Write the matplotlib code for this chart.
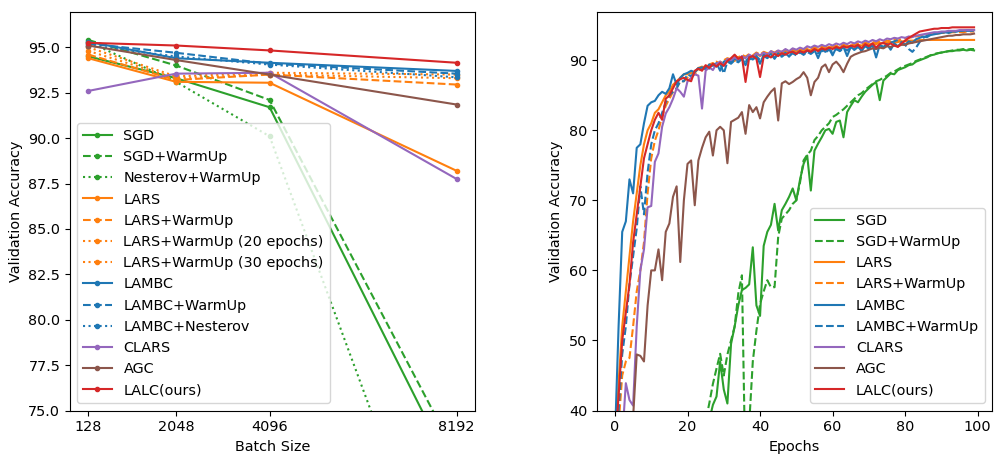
import matplotlib
matplotlib.use("Agg")
import matplotlib.pyplot as plt

plt.rcParams["font.size"] = 10.4

# ==========================
# Data: accuracy vs batch size
# ==========================

batch_sizes = [128, 2048, 4096, 8192]
batch_ticks = ["128", "2048", "4096", "8192"]

bs_sgd = [94.5, 93.3, 91.7, 71.2]
bs_sgd_wu = [95.4, 94.0, 92.1, 72.5]
bs_nesterov_wu = [95.3, 93.1, 90.1, 62.2]
bs_lars = [94.4, 93.1, 93.05, 88.2]
bs_lars_wu = [94.6, 93.2, 93.5, 92.95]
bs_lars_wu20 = [94.8, 93.3, 93.5, 93.3]
bs_lars_wu30 = [95.0, 93.4, 93.6, 93.5]
bs_lambc = [95.3, 94.4, 94.15, 93.7]
bs_lambc_wu = [95.2, 94.7, 94.1, 93.55]
bs_lambc_nest = [95.1, 94.5, 94.05, 93.35]
bs_clars = [92.6, 93.55, 93.6, 87.75]
bs_agc = [95.1, 94.3, 93.5, 91.85]
bs_lalc = [95.25, 95.1, 94.83, 94.15]

# ==========================
# Data: accuracy vs epochs
# ==========================

epochs = list(range(100))

ep_sgd = [10.0, 12.5, 14.8, 17.0, 18.6, 20.1, 21.5, 22.4, 23.9, 24.8,
          26.0, 26.9, 27.5, 28.8, 29.4, 30.6, 31.2, 32.0, 32.9, 33.5,
          34.4, 35.0, 35.8, 36.5, 37.1, 37.9, 38.6, 40.8, 42.0, 47.0,
          43.0, 41.0, 49.5, 52.0, 55.0, 57.2, 57.5, 58.0, 63.3, 55.0,
          53.5, 63.5, 65.5, 66.5, 69.5, 65.7, 68.6, 69.5, 70.5, 71.7,
          70.0, 72.9, 75.2, 76.4, 71.4, 77.1, 78.1, 79.0, 80.0, 80.2,
          79.5, 81.2, 81.4, 79.0, 82.6, 83.5, 84.3, 84.0, 84.8, 85.5,
          86.0, 86.5, 86.9, 84.3, 87.1, 87.6, 88.1, 88.0, 88.6, 88.8,
          89.0, 89.3, 89.4, 89.8, 90.0, 90.2, 90.4, 90.7, 90.8, 91.0,
          91.1, 91.2, 91.3, 91.3, 91.4, 91.4, 91.5, 91.4, 91.5, 91.4]

ep_sgd_wu = [10.0, 12.0, 14.5, 16.5, 18.5, 20.0, 21.6, 22.8, 24.0, 25.1,
             26.2, 27.0, 28.0, 28.9, 29.8, 30.5, 31.4, 32.1, 33.0, 33.8,
             34.5, 35.3, 36.0, 36.8, 37.5, 38.5, 41.0, 43.8, 46.0, 48.1,
             45.0, 48.0, 50.0, 52.0, 56.7, 59.3, 30.0, 38.0, 47.0, 51.4,
             55.2, 57.0, 58.6, 57.6, 57.6, 64.8, 67.4, 68.0, 68.6, 69.5,
             70.0, 72.5, 75.7, 76.5, 77.1, 78.6, 79.2, 80.0, 80.5, 81.0,
             81.9, 82.2, 82.6, 83.0, 83.5, 84.0, 84.5, 85.0, 85.3, 85.8,
             86.2, 86.6, 87.0, 87.2, 87.5, 87.8, 88.2, 88.4, 88.7, 89.0,
             89.2, 89.4, 89.6, 89.9, 90.1, 90.3, 90.5, 90.7, 90.9, 91.0,
             91.1, 91.2, 91.3, 91.4, 91.5, 91.5, 91.6, 91.5, 91.6, 91.6]

ep_lars = [33.0, 44.0, 52.0, 57.0, 62.0, 67.0, 71.0, 75.0, 78.0, 80.0,
           81.0, 82.5, 83.0, 84.0, 85.0, 85.5, 86.5, 87.0, 87.5, 88.0,
           88.0, 88.4, 88.2, 88.9, 89.1, 88.8, 89.4, 89.6, 89.3, 89.8,
           89.5, 90.0, 90.2, 89.9, 90.4, 90.1, 90.5, 90.7, 90.4, 90.9,
           90.6, 91.0, 90.8, 91.1, 90.9, 91.2, 91.0, 91.3, 91.1, 91.4,
           91.2, 91.5, 91.3, 91.6, 91.4, 91.7, 91.5, 91.8, 91.6, 91.9,
           91.7, 92.0, 91.8, 92.1, 91.9, 92.1, 92.0, 92.2, 92.1, 92.3,
           92.2, 92.4, 92.3, 92.5, 92.4, 92.5, 92.6, 92.5, 92.6, 92.7,
           92.7, 92.8, 92.8, 92.8, 92.9, 92.9, 92.9, 92.9, 92.9, 92.9,
           92.9, 92.9, 92.9, 92.9, 92.9, 92.9, 92.9, 92.9, 92.9, 92.9]

ep_lars_wu = [33.0, 38.0, 45.0, 47.0, 47.5, 52.0, 57.0, 60.0, 64.0, 71.0,
              76.0, 78.5, 80.0, 82.0, 83.5, 84.5, 85.5, 86.0, 87.0, 87.0,
              87.5, 88.2, 88.0, 88.6, 88.9, 89.2, 88.9, 89.5, 89.8, 89.4,
              90.0, 90.3, 90.1, 90.6, 90.4, 90.8, 90.5, 90.9, 90.7, 91.1,
              90.8, 91.2, 91.0, 91.3, 91.1, 91.4, 91.2, 91.5, 91.3, 91.6,
              91.4, 91.7, 91.5, 91.8, 91.6, 91.9, 91.7, 92.0, 91.8, 92.1,
              91.9, 92.1, 92.0, 92.2, 92.1, 92.3, 92.2, 92.4, 92.3, 92.5,
              92.4, 92.6, 92.5, 92.7, 92.6, 92.8, 92.7, 92.9, 92.8, 93.0,
              93.1, 93.2, 93.3, 93.4, 93.5, 93.6, 93.7, 93.7, 93.8, 93.8,
              93.9, 93.9, 93.9, 94.0, 94.0, 94.0, 94.0, 94.1, 94.1, 94.1]

ep_lambc = [36.0, 52.0, 65.5, 67.0, 73.0, 71.0, 77.5, 78.0, 81.0, 83.5,
            84.0, 84.2, 85.0, 85.5, 85.2, 86.0, 88.0, 86.5, 87.5, 88.0,
            88.2, 88.5, 88.3, 88.8, 89.0, 88.7, 89.4, 89.2, 89.6, 88.5,
            89.8, 90.0, 89.7, 90.2, 90.0, 90.4, 89.3, 90.5, 90.1, 90.6,
            89.5, 90.8, 90.5, 90.9, 90.2, 91.0, 90.6, 91.1, 90.5, 91.2,
            90.9, 91.3, 90.8, 91.4, 91.1, 91.5, 90.3, 91.6, 91.2, 91.7,
            90.7, 91.8, 91.4, 91.9, 90.6, 91.9, 91.5, 92.0, 91.3, 92.1,
            91.6, 92.2, 90.4, 92.2, 91.8, 92.3, 91.5, 92.4, 92.0, 92.5,
            92.2, 92.7, 92.5, 93.0, 93.2, 93.4, 93.3, 93.6, 93.7, 93.8,
            93.9, 94.0, 93.9, 94.1, 94.1, 94.2, 94.2, 94.3, 94.3, 94.3]

ep_lambc_wu = [33.0, 40.0, 48.0, 52.0, 58.0, 62.0, 66.0, 72.0, 68.0, 74.0,
               78.0, 80.0, 81.0, 82.5, 84.0, 85.0, 85.5, 86.0, 87.0, 87.0,
               88.0, 87.7, 88.4, 88.9, 88.6, 89.1, 88.8, 89.4, 89.1, 89.6,
               88.1, 89.8, 89.5, 90.0, 89.7, 90.2, 89.9, 90.3, 90.0, 90.5,
               90.1, 90.6, 90.3, 90.7, 90.4, 90.8, 90.5, 90.9, 90.6, 91.0,
               90.7, 91.1, 90.8, 91.2, 90.9, 91.3, 91.0, 91.4, 91.1, 91.5,
               91.2, 91.6, 91.3, 91.7, 91.4, 91.8, 91.5, 91.9, 91.6, 92.0,
               91.7, 92.1, 91.8, 92.2, 91.9, 92.3, 92.5, 92.7, 92.9, 92.6,
               92.2, 91.6, 91.2, 91.8, 92.6, 93.2, 93.5, 93.7, 93.8, 93.9,
               94.0, 94.0, 94.1, 94.1, 94.1, 94.2, 94.2, 94.2, 94.2, 94.2]

ep_clars = [30.0, 33.0, 36.0, 43.9, 41.5, 40.7, 52.0, 60.0, 63.0, 69.0,
            69.2, 75.5, 76.7, 80.5, 82.4, 83.3, 84.5, 86.0, 85.5, 84.8,
            87.0, 87.5, 88.0, 87.8, 83.1, 88.5, 89.0, 88.6, 89.5, 89.8,
            89.2, 90.2, 90.0, 90.4, 90.1, 90.6, 90.3, 90.8, 90.5, 91.0,
            90.7, 91.1, 90.8, 91.3, 91.0, 91.4, 91.2, 91.6, 91.3, 91.7,
            91.5, 91.8, 91.6, 92.0, 91.8, 92.1, 91.9, 92.2, 92.0, 92.3,
            92.1, 92.4, 92.2, 92.5, 92.3, 92.6, 92.4, 92.7, 92.5, 92.8,
            92.6, 92.9, 92.7, 93.0, 92.8, 93.1, 93.0, 93.2, 93.1, 93.3,
            93.2, 93.4, 93.3, 93.5, 93.6, 93.7, 93.8, 93.9, 94.0, 94.0,
            94.1, 94.1, 94.2, 94.2, 94.2, 94.3, 94.3, 94.3, 94.3, 94.3]

ep_agc = [28.0, 30.0, 32.0, 35.0, 37.0, 39.0, 48.0, 47.8, 47.0, 55.0,
          60.0, 60.0, 63.0, 58.6, 65.5, 66.7, 70.5, 72.0, 61.2, 70.0,
          75.2, 75.7, 69.3, 75.7, 77.5, 79.0, 79.8, 76.4, 80.0, 80.5,
          80.0, 75.3, 81.2, 81.5, 81.8, 82.6, 79.5, 83.6, 82.6, 83.3,
          81.7, 84.0, 84.8, 85.5, 86.0, 81.4, 86.7, 87.0, 86.6, 86.9,
          87.3, 87.6, 88.3, 87.5, 85.0, 86.9, 87.5, 89.0, 89.4, 88.3,
          89.4, 89.8, 89.2, 88.3, 89.5, 90.5, 90.8, 91.0, 91.2, 91.3,
          91.5, 91.7, 91.6, 91.8, 91.7, 92.0, 91.9, 92.1, 92.0, 92.2,
          92.2, 92.4, 92.5, 92.6, 92.7, 92.8, 92.9, 93.0, 93.1, 93.2,
          93.3, 93.4, 93.5, 93.5, 93.6, 93.6, 93.7, 93.7, 93.7, 93.8]

ep_lalc = [35.0, 42.0, 50.0, 54.0, 58.0, 64.0, 68.0, 72.0, 76.0, 78.0,
           80.0, 81.5, 82.5, 81.5, 84.5, 85.0, 86.0, 87.0, 87.3, 87.5,
           87.2, 87.0, 88.5, 88.8, 88.5, 89.3, 88.9, 89.5, 89.1, 89.6,
           89.2, 89.9, 90.3, 90.8, 90.2, 90.5, 86.9, 90.4, 90.6, 90.2,
           87.6, 90.5, 90.7, 90.4, 90.9, 90.6, 91.0, 90.8, 91.1, 91.2,
           90.9, 91.3, 91.1, 91.4, 91.2, 91.6, 91.3, 91.7, 91.5, 91.8,
           91.6, 91.9, 91.7, 92.0, 91.8, 92.1, 91.9, 92.2, 91.7, 92.3,
           92.0, 92.4, 91.8, 92.3, 92.5, 92.2, 92.4, 92.1, 91.9, 92.4,
           92.8, 93.2, 93.5, 93.8, 94.1, 94.2, 94.3, 94.4, 94.5, 94.5,
           94.6, 94.6, 94.6, 94.7, 94.7, 94.7, 94.7, 94.7, 94.7, 94.7]

# ==========================
# Figure
# ==========================

fig = plt.figure(figsize=(9.96, 4.55), dpi=100)
ax1 = fig.add_axes([0.0703, 0.0978, 0.4066, 0.876])
ax2 = fig.add_axes([0.5994, 0.0978, 0.3966, 0.876])

# left: batch size
ax1.plot(batch_sizes, bs_sgd, color="tab:green", ls="-", marker=".", label="SGD")
ax1.plot(batch_sizes, bs_sgd_wu, color="tab:green", ls="--", marker=".", label="SGD+WarmUp")
ax1.plot(batch_sizes, bs_nesterov_wu, color="tab:green", ls=":", marker=".", label="Nesterov+WarmUp")
ax1.plot(batch_sizes, bs_lars, color="tab:orange", ls="-", marker=".", label="LARS")
ax1.plot(batch_sizes, bs_lars_wu, color="tab:orange", ls="--", marker=".", label="LARS+WarmUp")
ax1.plot(batch_sizes, bs_lars_wu20, color="tab:orange", ls=":", marker=".", label="LARS+WarmUp (20 epochs)")
ax1.plot(batch_sizes, bs_lars_wu30, color="tab:orange", ls=":", marker=".", label="LARS+WarmUp (30 epochs)")
ax1.plot(batch_sizes, bs_lambc, color="tab:blue", ls="-", marker=".", label="LAMBC")
ax1.plot(batch_sizes, bs_lambc_wu, color="tab:blue", ls="--", marker=".", label="LAMBC+WarmUp")
ax1.plot(batch_sizes, bs_lambc_nest, color="tab:blue", ls=":", marker=".", label="LAMBC+Nesterov")
ax1.plot(batch_sizes, bs_clars, color="tab:purple", ls="-", marker=".", label="CLARS")
ax1.plot(batch_sizes, bs_agc, color="tab:brown", ls="-", marker=".", label="AGC")
ax1.plot(batch_sizes, bs_lalc, color="tab:red", ls="-", marker=".", label="LALC(ours)")

ax1.set_xticks(batch_sizes)
ax1.set_xticklabels(batch_ticks)
ax1.set_ylim(75, 96.95)
ax1.set_xlabel("Batch Size")
ax1.set_ylabel("Validation Accuracy")
ax1.legend(loc="lower left")

# right: epochs
ax2.plot(epochs, ep_sgd, color="tab:green", ls="-", label="SGD")
ax2.plot(epochs, ep_sgd_wu, color="tab:green", ls="--", label="SGD+WarmUp")
ax2.plot(epochs, ep_lars, color="tab:orange", ls="-", label="LARS")
ax2.plot(epochs, ep_lars_wu, color="tab:orange", ls="--", label="LARS+WarmUp")
ax2.plot(epochs, ep_lambc, color="tab:blue", ls="-", label="LAMBC")
ax2.plot(epochs, ep_lambc_wu, color="tab:blue", ls="--", label="LAMBC+WarmUp")
ax2.plot(epochs, ep_clars, color="tab:purple", ls="-", label="CLARS")
ax2.plot(epochs, ep_agc, color="tab:brown", ls="-", label="AGC")
ax2.plot(epochs, ep_lalc, color="tab:red", ls="-", label="LALC(ours)")

ax2.set_ylim(40, 96.9)
ax2.set_xlabel("Epochs")
ax2.set_ylabel("Validation Accuracy")
ax2.legend(loc="lower right")

fig.savefig("out.png", dpi=100)
